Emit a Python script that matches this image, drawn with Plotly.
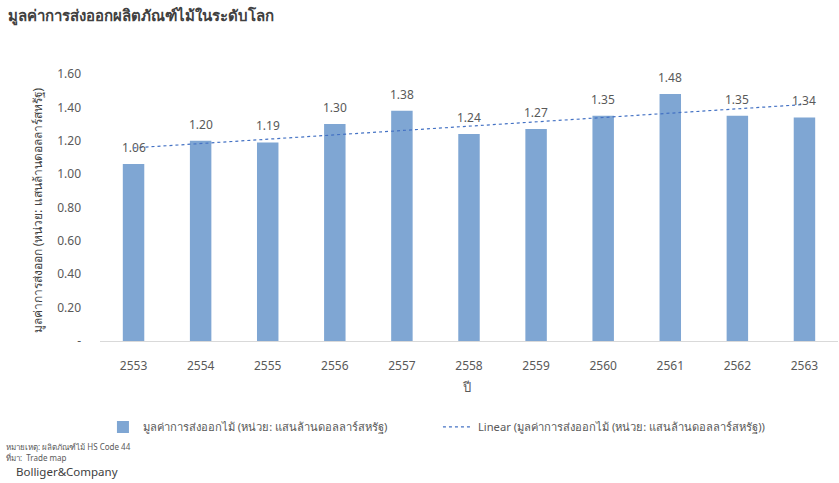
import numpy as np
import plotly.graph_objects as go

years = ["2553", "2554", "2555", "2556", "2557", "2558", "2559", "2560", "2561", "2562", "2563"]
values = [1.06, 1.20, 1.19, 1.30, 1.38, 1.24, 1.27, 1.35, 1.48, 1.35, 1.34]
ytick_vals = [0, 0.2, 0.4, 0.6, 0.8, 1.0, 1.2, 1.4, 1.6]
ytick_text = ["-", "0.20", "0.40", "0.60", "0.80", "1.00", "1.20", "1.40", "1.60"]

series_name = "มูลค่าการส่งออกไม้ (หน่วย: แสนล้านดอลลาร์สหรัฐ)"
trend_name = "Linear (มูลค่าการส่งออกไม้ (หน่วย: แสนล้านดอลลาร์สหรัฐ))"

idx = np.arange(len(values))
slope, intercept = np.polyfit(idx, values, 1)
trend = list(intercept + slope * idx)

FONT = "Noto Sans, DejaVu Sans, sans-serif"
GRAY = "#595959"

fig = go.Figure()
fig.add_trace(go.Bar(
    x=years, y=values, name=series_name,
    marker=dict(color="#7fa6d3", line=dict(width=0)),
))
fig.add_trace(go.Scatter(
    x=years, y=trend, name=trend_name, mode="lines",
    line=dict(color="#4472c4", width=1.2, dash="dot"),
))

# value labels above bars (category index positions)
for i, v in enumerate(values):
    fig.add_annotation(x=i, y=v, xref="x", yref="y", text=f"{v:.2f}", showarrow=False,
                       yanchor="bottom", yshift=6,
                       font=dict(size=12, color=GRAY, family=FONT))

fig.update_layout(
    width=839, height=483,
    margin=dict(l=100, r=1, t=74, b=142, autoexpand=False),
    paper_bgcolor="white", plot_bgcolor="white",
    font=dict(family=FONT, color=GRAY, size=12),
    bargap=0.68,
    title=dict(text="มูลค่าการส่งออกผลิตภัณฑ์ไม้ในระดับโลก",
               x=0.01, xanchor="left", y=0.967, yanchor="middle",
               font=dict(size=15, color="#404040", family=FONT, weight=600)),
    showlegend=True,
    legend=dict(orientation="h", x=0.004, xanchor="left", y=-0.322, yanchor="middle",
                font=dict(size=11.2, color=GRAY), itemwidth=30, tracegroupgap=0,
                entrywidth=290, entrywidthmode="pixels"),
    xaxis=dict(type="category", automargin=False,
               range=[-0.5, len(years) - 0.5],
               showline=True, linecolor="#d9d9d9", linewidth=1, ticks="",
               ticklabelstandoff=14,
               tickfont=dict(size=12, color=GRAY)),
    yaxis=dict(automargin=False,
               range=[0, 1.6], tickvals=ytick_vals, ticktext=ytick_text,
               showgrid=False, zeroline=False, showline=False, ticks="",
               ticklabelstandoff=18,
               tickfont=dict(size=12, color=GRAY)),
)

# axis titles
fig.add_annotation(text="ปี", xref="paper", yref="paper", x=0.497, y=-0.172,
                   xanchor="center", yanchor="middle", showarrow=False,
                   font=dict(size=13, color=GRAY))
fig.add_annotation(text="มูลค่าการส่งออก (หน่วย: แสนล้านดอลลาร์สหรัฐ)", xref="paper", yref="paper",
                   x=-0.085, y=0.49, xanchor="center", yanchor="middle", showarrow=False,
                   textangle=-90, font=dict(size=12, color="#404040"))

fig.add_annotation(text="หมายเหตุ: ผลิตภัณฑ์ไม้ HS Code 44", xref="paper", yref="paper",
                   x=-0.13, y=-0.397, xanchor="left", yanchor="middle", showarrow=False,
                   font=dict(size=8, color=GRAY))
fig.add_annotation(text="ที่มา:  Trade map", xref="paper", yref="paper",
                   x=-0.13, y=-0.438, xanchor="left", yanchor="middle", showarrow=False,
                   font=dict(size=8, color=GRAY))
fig.add_annotation(text="Bolliger&Company", xref="paper", yref="paper",
                   x=-0.117, y=-0.49, xanchor="left", yanchor="middle", showarrow=False,
                   font=dict(size=11.5, color="#404040"))

fig.write_html("out.html", config={"displayModeBar": False},
               post_script="document.body.style.margin='0';")
